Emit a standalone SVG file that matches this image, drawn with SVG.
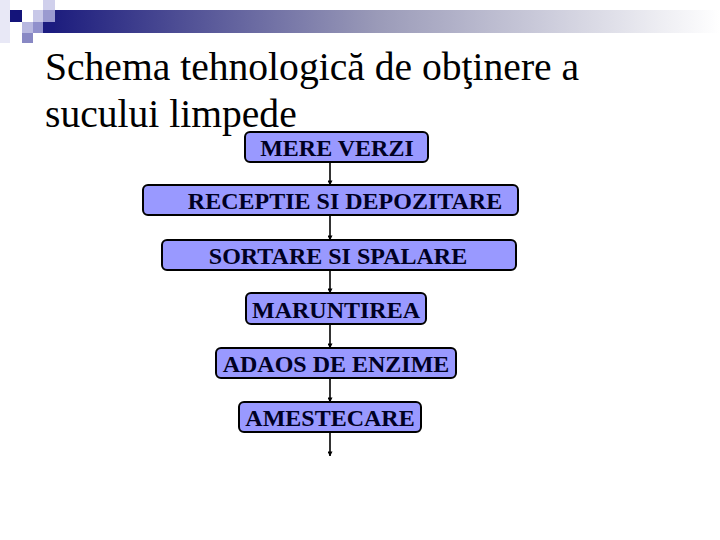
<svg xmlns="http://www.w3.org/2000/svg" width="720" height="540" viewBox="0 0 720 540">
<defs>
<linearGradient id="bar" x1="0" y1="0" x2="1" y2="0">
<stop offset="0" stop-color="#15157a"/>
<stop offset="0.5" stop-color="#9a9ab8"/>
<stop offset="1" stop-color="#ffffff"/>
</linearGradient>
<marker id="ah" viewBox="0 0 6 6" refX="5.5" refY="3" markerWidth="5" markerHeight="5" orient="auto" markerUnits="userSpaceOnUse">
<path d="M0,0 L6,3 L0,6 z" fill="#000"/>
</marker>
<style>
.box{fill:#9999ff;stroke:#000;stroke-width:2}
.lbl{font-family:"Liberation Serif","Times New Roman",serif;font-size:24px;font-weight:bold;fill:#000022;text-anchor:middle}
.title{font-family:"Liberation Serif","Times New Roman",serif;font-size:39.6px;fill:#000}
.conn{stroke:#000;stroke-width:1.6;fill:none;marker-end:url(#ah)}
</style>
</defs>
<rect width="720" height="540" fill="#fff"/>
<g id="decor">
<rect x="33" y="10" width="687" height="23" fill="url(#bar)"/>
<rect x="0" y="0" width="10" height="43" fill="#e8e8f6"/>
<rect x="10" y="10" width="12" height="12" fill="#14147a"/>
<rect x="22" y="22" width="11" height="11" fill="#b8b8e0"/>
<rect x="22" y="33" width="11" height="10" fill="#8888c4"/>
<rect x="33" y="10" width="10" height="12" fill="#c8c8e8"/>
<rect x="33" y="22" width="10" height="11" fill="#9090cc"/>
<rect x="43" y="0" width="12" height="10" fill="#d0d0ec"/>
<rect x="43" y="10" width="12" height="12" fill="#9a9ad0"/>
<rect x="43" y="22" width="12" height="11" fill="#1c1c80"/>
</g>
<g id="title">
<text class="title" x="45" y="80">Schema tehnologică de obţinere a</text>
<text class="title" x="45" y="127">sucului limpede</text>
</g>
<g id="connectors">
<line class="conn" x1="330" y1="162" x2="330" y2="185"/>
<line class="conn" x1="330" y1="215" x2="330" y2="240"/>
<line class="conn" x1="330" y1="270" x2="330" y2="293"/>
<line class="conn" x1="330" y1="324" x2="330" y2="348"/>
<line class="conn" x1="330" y1="378" x2="330" y2="402"/>
<line class="conn" x1="330" y1="432" x2="330" y2="456"/>
</g>
<g id="n1"><rect class="box" x="245" y="132" width="183" height="30" rx="5"/><text class="lbl" x="337" y="156">MERE VERZI</text></g>
<g id="n2"><rect class="box" x="143" y="185" width="375" height="30" rx="5"/><text class="lbl" x="345" y="209">RECEPTIE SI DEPOZITARE</text></g>
<g id="n3"><rect class="box" x="162" y="240" width="354" height="30" rx="5"/><text class="lbl" x="338" y="264">SORTARE SI SPALARE</text></g>
<g id="n4"><rect class="box" x="246" y="293" width="180" height="31" rx="5"/><text class="lbl" x="336" y="318">MARUNTIREA</text></g>
<g id="n5"><rect class="box" x="216" y="348" width="240" height="30" rx="5"/><text class="lbl" x="336" y="372">ADAOS DE ENZIME</text></g>
<g id="n6"><rect class="box" x="239" y="402" width="182" height="30" rx="5"/><text class="lbl" x="330" y="426">AMESTECARE</text></g>
</svg>
